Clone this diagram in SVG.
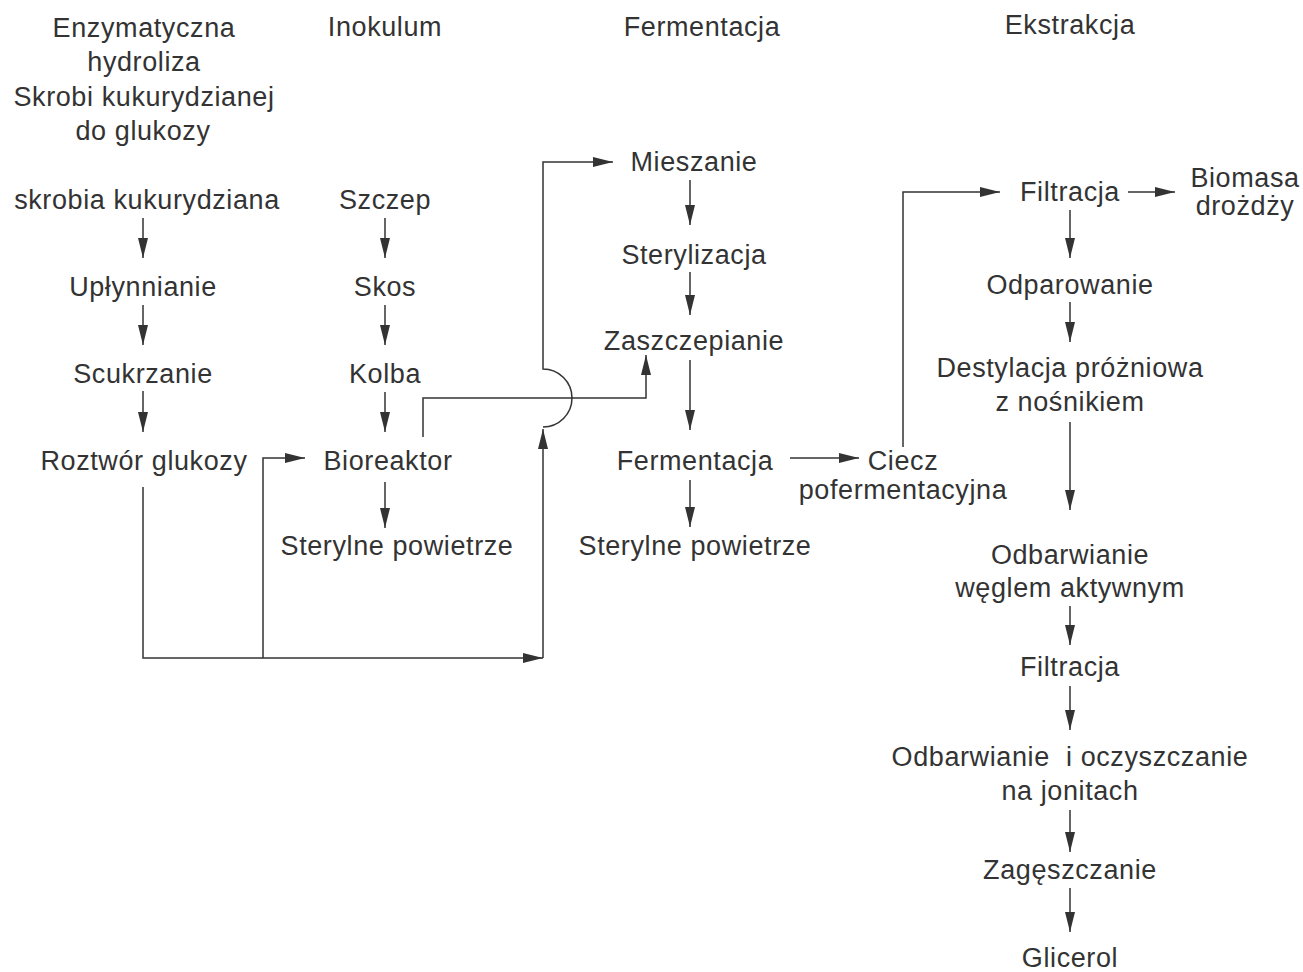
<svg xmlns="http://www.w3.org/2000/svg" width="1303" height="972" viewBox="0 0 1303 972">
<style>
text{font-family:"Liberation Sans",Arial,sans-serif;font-size:27px;fill:#333;text-anchor:middle;letter-spacing:0.6px}
.c{fill:none;stroke:#333;stroke-width:1.5}
</style>
<defs>
<marker id="a" markerUnits="userSpaceOnUse" markerWidth="20" markerHeight="11" refX="20" refY="5" orient="auto">
<path d="M0,0 L20,5 L0,10 z" fill="#333"/>
</marker>
</defs>
<rect width="1303" height="972" fill="#fff"/>
<g id="headers">
<text x="144" y="37">Enzymatyczna</text>
<text x="144" y="71">hydroliza</text>
<text x="144" y="106">Skrobi kukurydzianej</text>
<text x="143" y="140">do glukozy</text>
<text x="385" y="36">Inokulum</text>
<text x="702" y="36">Fermentacja</text>
<text x="1070" y="34">Ekstrakcja</text>
</g>
<g id="n-skrobia"><text x="147" y="209">skrobia kukurydziana</text></g>
<g id="n-uplynnianie"><text x="143" y="296">Upłynnianie</text></g>
<g id="n-scukrzanie"><text x="143" y="383">Scukrzanie</text></g>
<g id="n-roztwor"><text x="144" y="470">Roztwór glukozy</text></g>
<g id="n-szczep"><text x="385" y="209">Szczep</text></g>
<g id="n-skos"><text x="385" y="296">Skos</text></g>
<g id="n-kolba"><text x="385" y="383">Kolba</text></g>
<g id="n-bioreaktor"><text x="388" y="470">Bioreaktor</text></g>
<g id="n-powietrze1"><text x="397" y="555">Sterylne powietrze</text></g>
<g id="n-mieszanie"><text x="694" y="171">Mieszanie</text></g>
<g id="n-sterylizacja"><text x="694" y="264">Sterylizacja</text></g>
<g id="n-zaszczepianie"><text x="694" y="350">Zaszczepianie</text></g>
<g id="n-fermentacja"><text x="695" y="470">Fermentacja</text></g>
<g id="n-powietrze2"><text x="695" y="555">Sterylne powietrze</text></g>
<g id="n-ciecz"><text x="903" y="470">Ciecz</text><text x="903" y="499">pofermentacyjna</text></g>
<g id="n-filtracja1"><text x="1070" y="201">Filtracja</text></g>
<g id="n-biomasa"><text x="1245" y="187">Biomasa</text><text x="1245" y="215">drożdży</text></g>
<g id="n-odparowanie"><text x="1070" y="294">Odparowanie</text></g>
<g id="n-destylacja"><text x="1070" y="377">Destylacja próżniowa</text><text x="1070" y="411">z nośnikiem</text></g>
<g id="n-odbarwianie1"><text x="1070" y="564">Odbarwianie</text><text x="1070" y="597">węglem aktywnym</text></g>
<g id="n-filtracja2"><text x="1070" y="676">Filtracja</text></g>
<g id="n-odbarwianie2"><text x="1070" y="766" xml:space="preserve">Odbarwianie  i oczyszczanie</text><text x="1070" y="800">na jonitach</text></g>
<g id="n-zageszczanie"><text x="1070" y="879">Zagęszczanie</text></g>
<g id="n-glicerol"><text x="1070" y="967">Glicerol</text></g>
<g id="connectors" class="c">
<path class="c" d="M143 218V258" marker-end="url(#a)"/>
<path class="c" d="M143 305V345" marker-end="url(#a)"/>
<path class="c" d="M143 391V432" marker-end="url(#a)"/>
<path class="c" d="M385 218V258" marker-end="url(#a)"/>
<path class="c" d="M385 305V345" marker-end="url(#a)"/>
<path class="c" d="M385 392V432" marker-end="url(#a)"/>
<path class="c" d="M385 482V528" marker-end="url(#a)"/>
<path class="c" d="M690 180V225" marker-end="url(#a)"/>
<path class="c" d="M690 272V315" marker-end="url(#a)"/>
<path class="c" d="M690 360V430" marker-end="url(#a)"/>
<path class="c" d="M690 480V527" marker-end="url(#a)"/>
<path class="c" d="M1070 210V258" marker-end="url(#a)"/>
<path class="c" d="M1070 302V342" marker-end="url(#a)"/>
<path class="c" d="M1070 422V510" marker-end="url(#a)"/>
<path class="c" d="M1070 606V645" marker-end="url(#a)"/>
<path class="c" d="M1070 686V730" marker-end="url(#a)"/>
<path class="c" d="M1070 810V852" marker-end="url(#a)"/>
<path class="c" d="M1070 888V932" marker-end="url(#a)"/>
<path class="c" d="M790 458H859" marker-end="url(#a)"/>
<path class="c" d="M1128 192H1175" marker-end="url(#a)"/>
<path class="c" d="M143 487V658H543" marker-end="url(#a)"/>
<path class="c" d="M543 658V429" marker-end="url(#a)"/>
<path class="c" d="M263 658V458H305" marker-end="url(#a)"/>
<path class="c" d="M423 437V398H646V355" marker-end="url(#a)"/>
<path class="c" d="M543 427A29 29 0 0 0 543 369V162H613" marker-end="url(#a)"/>
<path class="c" d="M903 447V192H1000" marker-end="url(#a)"/>
</g>
</svg>
